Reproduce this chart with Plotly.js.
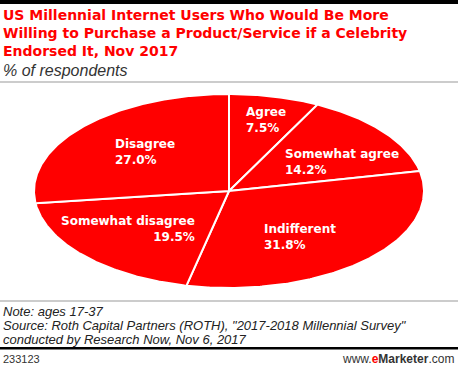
<!DOCTYPE html>
<html><head><meta charset="utf-8">
<script src="https://cdn.plot.ly/plotly-3.0.1.min.js"></script>
<style>html,body{margin:0;padding:0;background:#fff;}#chart{width:458px;height:366px;}</style>
</head><body><div id="chart"></div>
<script>
// ---- data ----
const categories = ["Agree", "Somewhat agree", "Indifferent", "Somewhat disagree", "Disagree"];
const values = [7.5, 14.2, 31.8, 19.5, 27.0];

// ---- layout constants (pixel space) ----
const W = 458, H = 366;
const CX = 229, CY = 191, RX = 195, RY = 97;
const labelPos = [
  {x: 244, y: 120, align: "left"},
  {x: 283, y: 162, align: "left"},
  {x: 262, y: 237, align: "left"},
  {x: 197, y: 229, align: "right"},
  {x: 113, y: 152, align: "left"}
];
const RED = "#ff0000";

const total = values.reduce((a, b) => a + b, 0);
const traces = [];
let cum = 0;
values.forEach((v, i) => {
  const a0 = cum / total * 2 * Math.PI;
  cum += v;
  const a1 = cum / total * 2 * Math.PI;
  const xs = [CX], ys = [CY];
  const n = Math.max(8, Math.ceil((a1 - a0) / 0.01));
  for (let k = 0; k <= n; k++) {
    const t = a0 + (a1 - a0) * k / n;
    xs.push(CX + RX * Math.sin(t));
    ys.push(CY - RY * Math.cos(t));
  }
  xs.push(CX); ys.push(CY);
  traces.push({
    type: "scatter", mode: "lines", x: xs, y: ys, fill: "toself",
    fillcolor: RED, line: {color: "#ffffff", width: 2},
    hoverinfo: "skip", name: categories[i]
  });
});

const annotations = [];
categories.forEach((c, i) => {
  const p = labelPos[i];
  annotations.push({
    xref: "x", yref: "y", x: p.x, y: p.y,
    xanchor: p.align, yanchor: "middle", align: p.align, showarrow: false,
    text: "<b>" + c + "<br>" + values[i].toFixed(1) + "%</b>",
    font: {family: "DejaVu Sans", size: 12, color: "#ffffff"}
  });
});

function txt(x, y, text, font, xanchor) {
  annotations.push({xref: "x", yref: "y", x: x, y: y, xanchor: xanchor || "left", yanchor: "middle",
    align: xanchor === "right" ? "right" : "left", showarrow: false, text: text, font: font});
}
const titleFont = {family: "DejaVu Sans", size: 14, color: RED};
txt(1, 15, "<b>US Millennial Internet Users Who Would Be More</b>", titleFont);
txt(1, 33, "<b>Willing to Purchase a Product/Service if a Celebrity</b>", titleFont);
txt(1, 51, "<b>Endorsed It, Nov 2017</b>", titleFont);
txt(1, 70, "<i>% of respondents</i>", {family: "Liberation Sans", size: 16, color: "#333333"});
const noteFont = {family: "Liberation Sans", size: 13, color: "#222222"};
txt(1, 311, "<i>Note: ages 17-37</i>", noteFont);
txt(1, 325, "<i>Source: Roth Capital Partners (ROTH), \"2017-2018 Millennial Survey\"</i>", noteFont);
txt(1, 339, "<i>conducted by Research Now, Nov 6, 2017</i>", noteFont);
txt(1, 359, "233123", {family: "Liberation Sans", size: 11, color: "#333333"});
txt(456, 359, "www.<b><span style=\"color:#ff0000\">e</span>Marketer</b>.com", {family: "Liberation Sans", size: 12, color: "#333333"}, "right");

const shapes = [
  {type: "rect", xref: "x", yref: "y", x0: 0, x1: W, y0: 0, y1: 4, fillcolor: "#000", line: {width: 0}},
  {type: "line", xref: "x", yref: "y", x0: 0, x1: W, y0: 82, y1: 82, line: {color: "#999999", width: 1}},
  {type: "line", xref: "x", yref: "y", x0: 0, x1: W, y0: 301, y1: 301, line: {color: "#999999", width: 1}},
  {type: "rect", xref: "x", yref: "y", x0: 0, x1: W, y0: 347, y1: 349.5, fillcolor: "#000", line: {width: 0}}
];

const layout = {
  width: W, height: H, margin: {l: 0, r: 0, t: 0, b: 0},
  paper_bgcolor: "#fff", plot_bgcolor: "#fff", showlegend: false,
  xaxis: {range: [0, W], visible: false, fixedrange: true},
  yaxis: {range: [H, 0], visible: false, fixedrange: true},
  annotations: annotations, shapes: shapes
};
Plotly.newPlot("chart", traces, layout, {staticPlot: true, displayModeBar: false});
</script></body></html>
